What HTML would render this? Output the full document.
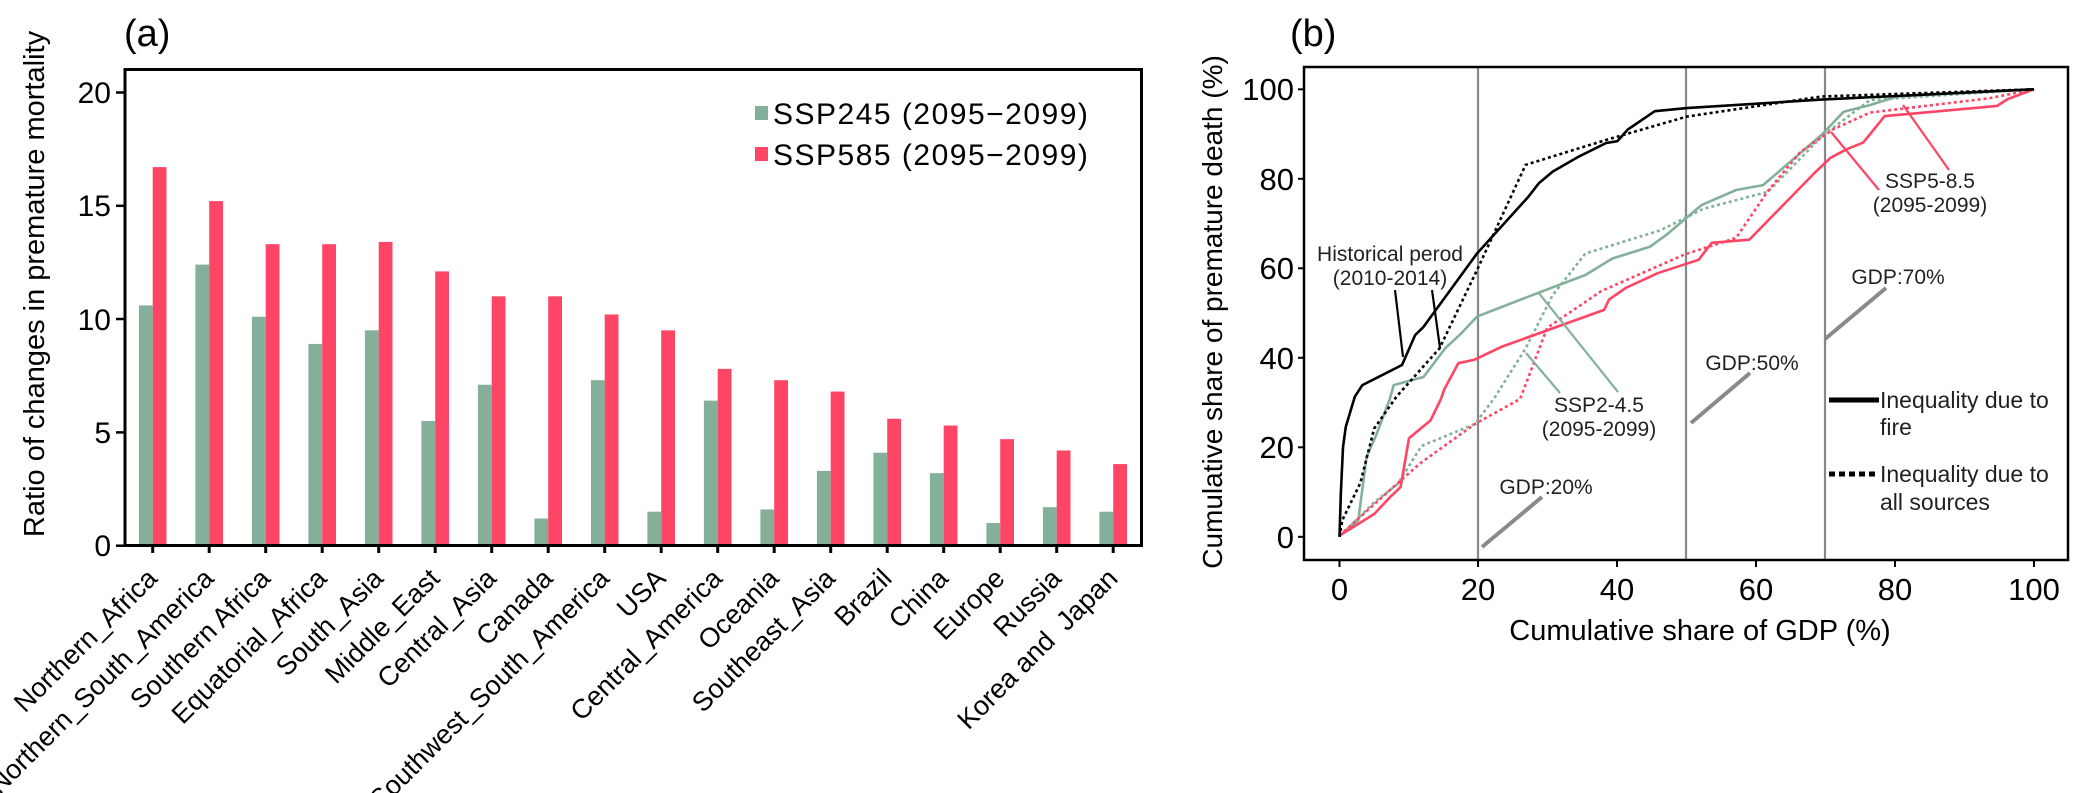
<!DOCTYPE html>
<html><head><meta charset="utf-8"><style>
html,body{margin:0;padding:0;background:#fff;}
svg{display:block;font-family:"Liberation Sans",sans-serif;}
</style></head><body>
<svg width="2075" height="793" viewBox="0 0 2075 793" xmlns="http://www.w3.org/2000/svg">
<rect width="2075" height="793" fill="#fff"/>
<!-- Panel a -->
<text x="124" y="46" font-size="38">(a)</text>
<text transform="translate(44,284) rotate(-90)" font-size="29" text-anchor="middle">Ratio of changes in premature mortality</text>
<g id="bars"></g>
<g font-size="30" text-anchor="end">
<text x="111" y="103">20</text><text x="111" y="216">15</text><text x="111" y="330">10</text><text x="111" y="443">5</text><text x="111" y="556">0</text>
</g>
<g stroke="#000" stroke-width="2.5">
<line x1="116" y1="92.5" x2="125" y2="92.5"/><line x1="116" y1="205.8" x2="125" y2="205.8"/><line x1="116" y1="319" x2="125" y2="319"/><line x1="116" y1="432.4" x2="125" y2="432.4"/><line x1="116" y1="545.7" x2="125" y2="545.7"/>
</g>
<!-- legend a -->
<rect x="755" y="106" width="13" height="14" fill="#84b09a"/>
<rect x="755" y="147" width="13" height="14" fill="#ff4566"/>
<text x="773" y="124" font-size="30" letter-spacing="1.5">SSP245 (2095−2099)</text>
<text x="773" y="165" font-size="30" letter-spacing="1.5">SSP585 (2095−2099)</text>
<g id="xlabels" font-size="27" text-anchor="end"></g>
<rect x="125" y="69.5" width="1016.5" height="476" fill="none" stroke="#000" stroke-width="3"/>

<!-- Panel b -->
<text x="1290" y="46" font-size="38">(b)</text>
<text transform="translate(1222,312) rotate(-90)" font-size="28" text-anchor="middle">Cumulative share of premature death (%)</text>
<g stroke="#888" stroke-width="2.2">
<line x1="1478" y1="67" x2="1478" y2="560"/><line x1="1686" y1="67" x2="1686" y2="560"/><line x1="1825" y1="67" x2="1825" y2="560"/>
</g>
<g font-size="31" text-anchor="end">
<text x="1294" y="100">100</text><text x="1294" y="190">80</text><text x="1294" y="279">60</text><text x="1294" y="369">40</text><text x="1294" y="458">20</text><text x="1294" y="548">0</text>
</g>
<g font-size="31" text-anchor="middle">
<text x="1339.5" y="600">0</text><text x="1478" y="600">20</text><text x="1617" y="600">40</text><text x="1756" y="600">60</text><text x="1895" y="600">80</text><text x="2034" y="600">100</text>
</g>
<text x="1700" y="640" font-size="29" text-anchor="middle">Cumulative share of GDP (%)</text>
<g stroke="#000" stroke-width="2">
<line x1="1298" y1="89.3" x2="1304" y2="89.3"/><line x1="1298" y1="178.8" x2="1304" y2="178.8"/><line x1="1298" y1="268.3" x2="1304" y2="268.3"/><line x1="1298" y1="357.8" x2="1304" y2="357.8"/><line x1="1298" y1="447.3" x2="1304" y2="447.3"/><line x1="1298" y1="536.8" x2="1304" y2="536.8"/>
<line x1="1339.5" y1="560" x2="1339.5" y2="567"/><line x1="1478" y1="560" x2="1478" y2="567"/><line x1="1617" y1="560" x2="1617" y2="567"/><line x1="1756" y1="560" x2="1756" y2="567"/><line x1="1895" y1="560" x2="1895" y2="567"/><line x1="2034" y1="560" x2="2034" y2="567"/>
</g>
<g id="curves" fill="none" stroke-width="2.6" stroke-linejoin="round"></g>
<!-- GDP annotations -->
<g stroke="#8a8a8a" stroke-width="4">
<line x1="1886" y1="288" x2="1825" y2="339"/>
<line x1="1750" y1="373" x2="1691" y2="423"/>
<line x1="1542" y1="497" x2="1482" y2="547"/>
</g>
<g font-size="21" text-anchor="middle" fill="#231f20">
<text x="1898" y="284">GDP:70%</text>
<text x="1752" y="370">GDP:50%</text>
<text x="1546" y="494">GDP:20%</text>
<text x="1390" y="261">Historical perod</text>
<text x="1390" y="285">(2010-2014)</text>
<text x="1930" y="188">SSP5-8.5</text>
<text x="1930" y="212">(2095-2099)</text>
<text x="1599" y="412">SSP2-4.5</text>
<text x="1599" y="436">(2095-2099)</text>
</g>
<g stroke-width="2.2">
<line x1="1395" y1="290" x2="1403" y2="357" stroke="#000"/>
<line x1="1432" y1="290" x2="1440" y2="348" stroke="#000"/>
<line x1="1879" y1="190" x2="1831" y2="132" stroke="#ff4566"/>
<line x1="1949" y1="170" x2="1903" y2="105" stroke="#ff4566"/>
<line x1="1618" y1="392" x2="1538" y2="292" stroke="#84b09a"/>
<line x1="1560" y1="393" x2="1526" y2="353" stroke="#84b09a"/>
</g>
<!-- legend b -->
<line x1="1829" y1="400" x2="1879" y2="400" stroke="#000" stroke-width="5"/>
<line x1="1829" y1="474" x2="1879" y2="474" stroke="#000" stroke-width="5" stroke-dasharray="6,4"/>
<g font-size="23" fill="#231f20">
<text x="1880" y="408">Inequality due to</text>
<text x="1880" y="435">fire</text>
<text x="1880" y="482">Inequality due to</text>
<text x="1880" y="510">all sources</text>
</g>
<rect x="1304" y="67" width="764" height="493" fill="none" stroke="#000" stroke-width="2.5"/>
</svg>
<script>
(function(){
var NS="http://www.w3.org/2000/svg";
var g=[10.6,12.4,10.1,8.9,9.5,5.5,7.1,1.2,7.3,1.5,6.4,1.6,3.3,4.1,3.2,1.0,1.7,1.5];
var r=[16.7,15.2,13.3,13.3,13.4,12.1,11.0,11.0,10.2,9.5,7.8,7.3,6.8,5.6,5.3,4.7,4.2,3.6];
var names=["Northern_Africa","Northern_South_America","Southern Africa","Equatorial_Africa","South_Asia","Middle_East","Central_Asia","Canada","Southwest_South_America","USA","Central_America","Oceania","Southeast_Asia","Brazil","China","Europe","Russia","Korea and \u00a0Japan"];
var bars=document.getElementById("bars"),xl=document.getElementById("xlabels");
var base=545.7,k=22.67;
for(var i=0;i<18;i++){
 var c=152.7+56.5*i;
 function rc(x,v,col){var e=document.createElementNS(NS,"rect");e.setAttribute("x",x);e.setAttribute("y",base-v*k);e.setAttribute("width",13.8);e.setAttribute("height",v*k);e.setAttribute("fill",col);bars.appendChild(e);}
 rc(c-13.8,g[i],"#84b09a");rc(c,r[i],"#ff4566");
 var t=document.createElementNS(NS,"line");t.setAttribute("x1",c);t.setAttribute("x2",c);t.setAttribute("y1",545);t.setAttribute("y2",553);t.setAttribute("stroke","#000");t.setAttribute("stroke-width","3");bars.appendChild(t);
 var tx=document.createElementNS(NS,"text");tx.setAttribute("transform","translate("+(c+6)+",580) rotate(-45)");tx.textContent=names[i];xl.appendChild(tx);
}
function P(a){return a.map(function(p){return (1339.5+p[0]*6.945).toFixed(1)+","+(536.8-p[1]*4.475).toFixed(1)}).join(" ");}
var cur=[
 ["#84b09a","",[[0,0.3],[2.7,3.7],[3.9,17.9],[5.3,22.8],[7.2,30.6],[7.8,33.9],[12.1,35.7],[15.2,42.1],[17.5,45.4],[19.8,49.2],[28.4,54.4],[35.4,58.5],[39.3,62.2],[44.7,64.8],[47,67.4],[52.1,74.1],[57.1,77.5],[61,78.6],[69.4,89.8],[72.6,95],[76.4,96.5],[80.3,98.4],[100,100]]],
 ["#84b09a","3,3",[[0.4,0.6],[5,7.7],[8.4,11.8],[11.8,20.3],[19.5,25.2],[22.2,30.8],[26.8,42.1],[30.7,54],[35.4,63.3],[46.2,68.5],[52.4,73.3],[61.7,77.1],[69.4,89.4],[76.4,97.6],[100,100]]],
 ["#ff4566","3,3",[[0,0.3],[8.4,12],[11.6,16.4],[19.5,25.2],[26,30.8],[29.9,46.7],[37.7,54.9],[49.7,63.1],[57.1,66.8],[61.7,77.3],[66.3,85.9],[71,91],[76.4,94.8],[93.5,98],[100,100]]],
 ["#ff4566","",[[0,0.3],[2.3,2.5],[5,5.1],[7.3,8.9],[8.8,11.1],[10,22],[13.1,26],[14.6,30.8],[15.1,33],[17.1,38.8],[19.5,39.6],[23.4,42.5],[38.1,50.7],[38.8,53],[41.2,55.6],[45.8,58.9],[51.7,61.9],[53.6,65.7],[59,66.4],[68.4,81.3],[70.7,84.7],[73,86.6],[75.4,88.1],[78.5,94],[94.7,96.3],[96.2,97.8],[100,100]]],
 ["#000","3,3",[[0,0],[0.4,3.7],[3,12],[5,24.2],[8.2,31.3],[14.4,42.1],[19.8,59.6],[26.8,83.1],[30.7,85],[38.4,88.7],[50,93.9],[69.4,98.4],[100,100]]],
 ["#000","",[[0,0],[0.2,10],[0.5,20],[0.9,24.6],[2.2,31.3],[3.3,33.9],[9,38.4],[10.9,45.1],[12.1,46.9],[19.8,63.3],[27.2,76],[28.7,79],[30.7,81.6],[34.5,85],[38.4,88],[40,88.4],[41.5,91],[45.4,95.1],[50,95.8],[69.4,97.7],[100,100]]]
];
var cg=document.getElementById("curves");
cur.forEach(function(c){var e=document.createElementNS(NS,"polyline");e.setAttribute("points",P(c[2]));e.setAttribute("stroke",c[0]);if(c[1])e.setAttribute("stroke-dasharray",c[1]);cg.appendChild(e);});
})();
</script>
</body></html>
